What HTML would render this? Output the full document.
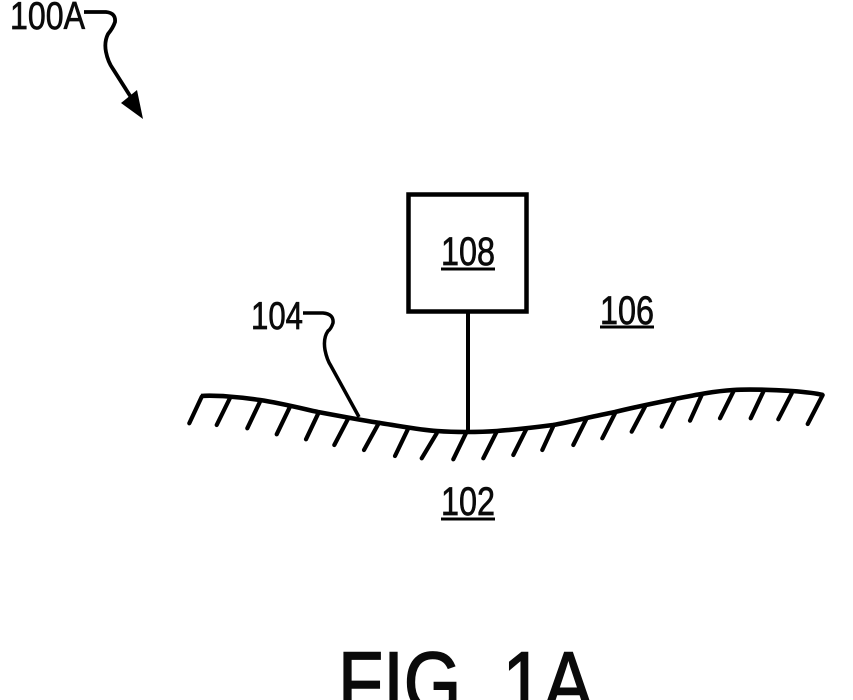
<!DOCTYPE html>
<html><head><meta charset="utf-8"><title>FIG. 1A</title>
<style>html,body{margin:0;padding:0;background:#fff}svg{display:block}text{font-family:"Liberation Sans",sans-serif;fill:#0a0a0a;stroke:#0a0a0a;stroke-width:.7px}</style>
</head><body>
<svg width="853" height="700" viewBox="0 0 853 700" xmlns="http://www.w3.org/2000/svg">
<text x="10" y="29" font-size="39" textLength="75" lengthAdjust="spacingAndGlyphs">100A</text>
<path d="M84 12H106Q116 13 115 22Q113 28 108 34Q104 42 106 52Q108 62 113 69L134 102" fill="none" stroke="#000" stroke-width="3.800"/>
<path d="M121 103L137 90L143 119Z" fill="#000"/>
<rect x="408.500" y="194.500" width="118" height="117" fill="#fff" stroke="#000" stroke-width="4.500"/>
<text x="441" y="265" font-size="40" textLength="54" lengthAdjust="spacingAndGlyphs">108</text>
<path d="M441 269H495" stroke="#000" stroke-width="3"/>
<path d="M468 312V432" stroke="#000" stroke-width="4"/>
<text x="251" y="329" font-size="39" textLength="52" lengthAdjust="spacingAndGlyphs">104</text>
<path d="M303 313H323Q334 314 333 323Q331 329 328 331Q323 338 325 350Q327 360 331 366L359 417" fill="none" stroke="#000" stroke-width="3.500"/>
<text x="600" y="324" font-size="40" textLength="54" lengthAdjust="spacingAndGlyphs">106</text>
<path d="M600 327H654" stroke="#000" stroke-width="3"/>
<path d="M201 396C215 395 240 397 260 400C280 403 300 408 318 412C340 416 360 420 380 423C400 426 420 430 437 431C450 432 458 432 467 432C478 432 490 431.500 497 431C510 430 530 428 553 425C570 422 590 417 615 412C635 407 655 403 675 399C695 395 715 391 733 390C750 389 775 390 792 391C805 392 815 393 823 395" fill="none" stroke="#000" stroke-width="4.600"/>
<path d="M201.700 396.700L189.300 423.300M230 398L216.700 425M260 401.700L247.300 428.300M290 406.700L276.700 434.300M318.300 413.300L306 439.300M348.300 418.300L334.300 445M379 422.700L364 450M408.300 428.300L395 456M436.700 433.300L421.700 458.300M466.700 431.700L453.300 459.300M496.700 431.700L483.300 458.300M526.700 428.300L513.300 455M553 426.700L542.300 450M586.700 418.300L573.300 445M615 413.300L602.300 438.300M645 406.700L631.700 431.700M675 400L661.700 426.700M701.700 395L690 420.700M733.300 391.700L720 418.300M763.300 391.700L750.700 418.300M791.700 393.300L778.300 419.300M822.700 395L807.700 424" fill="none" stroke="#000" stroke-width="4.200" stroke-linecap="round"/>
<text x="441" y="515" font-size="40" textLength="54" lengthAdjust="spacingAndGlyphs">102</text>
<path d="M441 519H495" stroke="#000" stroke-width="3"/>
<text x="338" y="712" font-size="86" textLength="255" lengthAdjust="spacingAndGlyphs" style="stroke-width:1.500px">FIG. 1A</text>
</svg>
</body></html>
